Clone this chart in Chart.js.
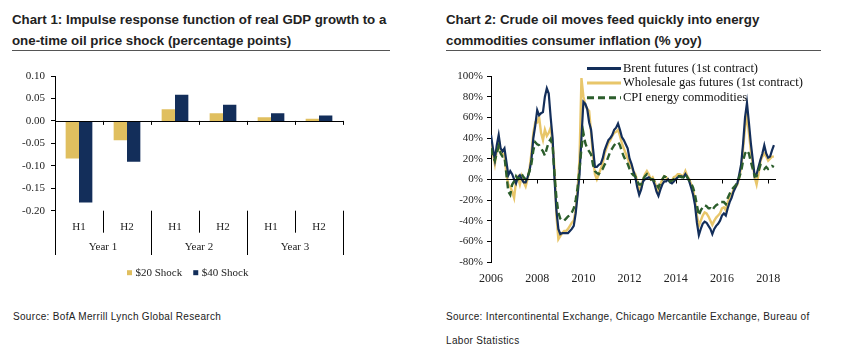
<!DOCTYPE html>
<html><head><meta charset="utf-8">
<script src="https://cdn.jsdelivr.net/npm/chart.js@4.4.1/dist/chart.umd.min.js"></script>
<style>
body{margin:0;background:#fff;width:850px;height:362px;overflow:hidden;position:relative;font-family:"Liberation Sans",Arial,sans-serif;}
.title{position:absolute;font-weight:bold;font-size:13.3px;line-height:21px;color:#222;white-space:nowrap;}
.rule{position:absolute;height:1px;background:#555;}
.src{position:absolute;font-size:10px;color:#222;letter-spacing:0.32px;white-space:nowrap;}
.cw{position:absolute;top:60px;width:425px;height:240px;}
</style></head><body>
<div class="title" style="left:12px;top:9px;">Chart 1: Impulse response function of real GDP growth to a<br>one-time oil price shock (percentage points)</div>
<div class="rule" style="left:12px;top:50px;width:378px"></div>
<div class="title" style="left:446px;top:9px;">Chart 2: Crude oil moves feed quickly into energy<br>commodities consumer inflation (% yoy)</div>
<div class="rule" style="left:446px;top:50px;width:375px"></div>
<div class="cw" style="left:0px"><canvas id="c1" width="425" height="240"></canvas></div>
<div class="cw" style="left:425px"><canvas id="c2" width="425" height="240"></canvas></div>
<div class="src" style="left:13px;top:311px;line-height:12px">Source: BofA Merrill Lynch Global Research</div>
<div class="src" style="left:446px;top:305px;line-height:24px">Source: Intercontinental Exchange, Chicago Mercantile Exchange, Bureau of<br>Labor Statistics</div>
<script>
// ---------- Chart 1 data ----------
const halfLabels = ['H1','H2','H1','H2','H1','H2'];
const yearLabels = ['Year 1','Year 2','Year 3'];
const shock20 = [-0.084, -0.043, 0.026, 0.017, 0.008, 0.005];
const shock40 = [-0.182, -0.091, 0.058, 0.036, 0.017, 0.012];

// ---------- Chart 2 data (monthly, Jan 2006 - Apr 2018) ----------
const brent = [
 43, 30, 19, 33, 43, 30, 27, 30, 17, 4, 8, 5,
 0, -4, 2, 4, 0, -3, -3, 2, 8, 19, 40, 52,
 67, 62, 64, 65, 80, 88, 83, 60, 40, 0, -30, -48,
 -53, -52, -52, -52, -52, -50, -48, -45, -33, -15, 5, 40,
 75, 73, 68, 55, 48, 30, 12, 12, 14, 15, 20, 28,
 33, 38, 40, 43, 48, 50, 54, 48, 41, 38, 34, 30,
 20, 15, 8, 2, -8, -15, -10, -2, 0, 1, 2, 0,
 0, -5, -12, -16, -10, -5, -2, -2, 0, -3, -4, -2,
 0, 2, 3, 3, 2, 5, 2, -2, -8, -15, -25, -42,
 -54, -48, -43, -41, -42, -45, -48, -53, -48, -45, -43, -40,
 -35, -33, -35, -28, -22, -18, -12, -8, -4, 5, 15, 35,
 60, 74, 55, 35, 19, 3, 5, 12, 19, 25, 33, 25,
 21, 22, 28, 33
];
const gasoline = [
 35, 25, 15, 28, 38, 28, 24, 25, 5, -5, -7, -12,
 -18, -2, 2, -5, 3, -3, -7, 0, 10, 25, 45, 55,
 55, 60, 45, 38, 48, 42, 45, 50, 35, 10, -35, -58,
 -55, -52, -50, -50, -48, -45, -42, -40, -30, -10, 20, 98,
 80, 72, 68, 66, 45, 22, 5, 0, 5, 10, 15, 25,
 30, 35, 38, 42, 45, 46, 48, 42, 35, 30, 25, 20,
 15, 12, 8, 5, -2, -10, -8, 0, 5, 8, 5, 0,
 2, -2, -8, -12, -5, 0, 3, 2, 0, -2, -1, 2,
 3, 5, 5, 4, 3, 8, 3, 0, -5, -10, -20, -35,
 -45, -40, -35, -32, -33, -36, -40, -44, -40, -37, -35, -33,
 -28, -27, -30, -22, -18, -15, -10, -8, -5, 2, 12, 30,
 50, 62, 45, 28, 15, 2, -5, 5, 18, 22, 25, 22,
 18, 20, 22, 22
];
const cpiEnergy = [
 30, 22, 18, 25, 32, 25, 22, 22, 5, -12, -15, -5,
 -2, 3, 0, 2, 5, 2, 0, 2, 8, 15, 28, 36,
 34, 33, 30, 27, 23, 30, 36, 39, 32, 5, -18, -32,
 -38, -40, -40, -38, -36, -35, -32, -28, -20, -8, 10, 30,
 45, 35, 30, 27, 24, 14, 8, 6, 5, 8, 10, 14,
 17, 22, 27, 30, 33, 35, 36, 33, 27, 22, 18, 15,
 10, 6, 4, 3, -2, -5, -5, 0, 3, 5, 2, 0,
 0, -2, -5, -8, -3, 0, 3, 2, 0, -2, -1, 0,
 2, 3, 3, 2, 2, 5, 2, -1, -4, -8, -15, -25,
 -35, -30, -27, -25, -26, -28, -28, -30, -27, -25, -24, -22,
 -22, -22, -24, -18, -14, -10, -8, -6, -3, 2, 8, 18,
 25, 28, 25, 17, 10, 3, 3, 8, 14, 12, 10, 12,
 10, 11, 13, 12
];
const months = [];
for (let y = 2006; y <= 2018; y++) for (let m = 1; m <= 12; m++) if (y < 2018 || m <= 4) months.push(y + '-' + String(m).padStart(2, '0'));
const monthX = months.map(s => { const [y, m] = s.split('-').map(Number); return y + (m - 1) / 12; });

const GOLD = '#e0bf5f', NAVY = '#132e5a', LGOLD = '#e8c66a', GREEN = '#2c5e2c';
const SERIF = '"Liberation Serif", "Times New Roman", serif';

// ---------- Chart 1 ----------
const chart1Deco = {
  id: 'chart1Deco',
  afterDraw(chart) {
    const ctx = chart.ctx, ca = chart.chartArea, xs = chart.scales.x, ys = chart.scales.y;
    const y0 = ys.getPixelForValue(0);
    const n = halfLabels.length;
    const bounds = [];
    for (let i = 0; i <= n; i++) {
      if (i === 0) bounds.push(ca.left);
      else if (i === n) bounds.push(ca.right);
      else bounds.push((xs.getPixelForValue(i - 1) + xs.getPixelForValue(i)) / 2);
    }
    ctx.save();
    ctx.strokeStyle = '#000'; ctx.lineWidth = 1;
    ctx.beginPath();
    ctx.moveTo(ca.left, Math.round(y0) + 0.5); ctx.lineTo(ca.right, Math.round(y0) + 0.5);
    bounds.forEach(b => { ctx.moveTo(Math.round(b) + 0.5, y0); ctx.lineTo(Math.round(b) + 0.5, y0 + 4); });
    bounds.forEach((b, i) => {
      const len = (i % 2 === 0) ? 44.3 : 22;
      ctx.moveTo(Math.round(b) + 0.5, ca.bottom); ctx.lineTo(Math.round(b) + 0.5, ca.bottom + len);
    });
    ctx.stroke();
    ctx.fillStyle = '#222'; ctx.font = '11px ' + SERIF; ctx.textAlign = 'center'; ctx.textBaseline = 'middle';
    yearLabels.forEach((t, k) => ctx.fillText(t, bounds[2 * k + 1], ca.bottom + 36.5));
    let x = 127; const ly = 212.7;
    ctx.textAlign = 'left';
    chart.data.datasets.forEach(ds => {
      ctx.fillStyle = ds.backgroundColor; ctx.fillRect(x, ly - 2.5, 5, 5);
      ctx.fillStyle = '#222'; ctx.fillText(ds.label, x + 8.5, ly);
      x += 8.5 + ctx.measureText(ds.label).width + 11;
    });
    ctx.restore();
  }
};
new Chart(document.getElementById('c1'), {
  type: 'bar',
  data: {
    labels: halfLabels,
    datasets: [
      { label: '$20 Shock', data: shock20, backgroundColor: GOLD },
      { label: '$40 Shock', data: shock40, backgroundColor: NAVY }
    ]
  },
  options: {
    responsive: false, animation: false,
    layout: { padding: { top: 16, right: 82, left: 0, bottom: 0 } },
    plugins: { legend: { display: false }, tooltip: { enabled: false } },
    datasets: { bar: { categoryPercentage: 0.556, barPercentage: 1.0 } },
    scales: {
      x: {
        grid: { display: false }, border: { display: false },
        ticks: { font: { family: SERIF, size: 11 }, color: '#222', padding: 2 },
        afterFit: s => { s.height = 89.3; }
      },
      y: {
        min: -0.2, max: 0.1,
        ticks: { stepSize: 0.05, font: { family: SERIF, size: 11 }, color: '#222', padding: 6,
                 callback: v => (Math.abs(v) < 1e-9 ? 0 : v).toFixed(2) },
        grid: { drawOnChartArea: false, drawTicks: true, tickLength: 4, color: '#000' },
        border: { display: true, color: '#000', width: 1 },
        afterFit: s => { s.width = 55; }
      }
    }
  },
  plugins: [chart1Deco]
});

// ---------- Chart 2 ----------
const chart2Deco = {
  id: 'chart2Deco',
  afterDatasetsDraw(chart) {
    const ctx = chart.ctx, ca = chart.chartArea, xs = chart.scales.x, ys = chart.scales.y;
    const y0 = Math.round(ys.getPixelForValue(0)) + 0.5;
    ctx.save();
    ctx.strokeStyle = '#000'; ctx.lineWidth = 1; ctx.setLineDash([]);
    ctx.beginPath();
    ctx.moveTo(ca.left, y0); ctx.lineTo(ca.right, y0);
    xs.ticks.forEach(t => { const px = Math.round(xs.getPixelForValue(t.value)) + 0.5; ctx.moveTo(px, y0); ctx.lineTo(px, y0 + 4); });
    ctx.stroke();
    ctx.restore();
  },
  afterDraw(chart) {
    const ctx = chart.ctx;
    const lx = 162, ly = 8.5, dy = 14.6;
    ctx.save();
    ctx.font = '12.5px ' + SERIF; ctx.textBaseline = 'middle'; ctx.textAlign = 'left'; ctx.fillStyle = '#111';
    chart.data.datasets.forEach((ds, i) => {
      const y = ly + i * dy;
      ctx.strokeStyle = ds.borderColor; ctx.lineWidth = 3; ctx.setLineDash(ds.borderDash || []);
      ctx.beginPath(); ctx.moveTo(lx, y); ctx.lineTo(lx + 34, y); ctx.stroke();
      ctx.fillText(ds.label, lx + 36, y);
    });
    ctx.restore();
  }
};
const toXY = arr => arr.map((v, i) => ({ x: monthX[i], y: v }));
new Chart(document.getElementById('c2'), {
  type: 'line',
  data: {
    datasets: [
      { label: 'Brent futures (1st contract)', data: toXY(brent), borderColor: NAVY, borderWidth: 2.2, order: 2 },
      { label: 'Wholesale gas futures (1st contract)', data: toXY(gasoline), borderColor: LGOLD, borderWidth: 2.4, order: 3 },
      { label: 'CPI energy commodities', data: toXY(cpiEnergy), borderColor: GREEN, borderWidth: 2.4, borderDash: [7, 4], order: 1 }
    ]
  },
  options: {
    responsive: false, animation: false,
    layout: { padding: { top: 16, right: 74, left: 0, bottom: 0 } },
    plugins: { legend: { display: false }, tooltip: { enabled: false } },
    elements: { point: { radius: 0 }, line: { tension: 0, fill: false } },
    scales: {
      x: {
        type: 'linear', min: 2006, max: 2018.34,
        grid: { display: false }, border: { display: false },
        ticks: { stepSize: 2, includeBounds: false, font: { family: SERIF, size: 12 }, color: '#222', padding: 2,
                 callback: v => String(v), maxRotation: 0 },
        afterFit: s => { s.height = 38; }
      },
      y: {
        min: -80, max: 100,
        ticks: { stepSize: 20, font: { family: SERIF, size: 11 }, color: '#222', padding: 4, callback: v => v + '%' },
        grid: { drawOnChartArea: false, drawTicks: true, tickLength: 4, color: '#000' },
        border: { display: true, color: '#000', width: 1 },
        afterFit: s => { s.width = 66; }
      }
    }
  },
  plugins: [chart2Deco]
});
</script>
</body></html>
